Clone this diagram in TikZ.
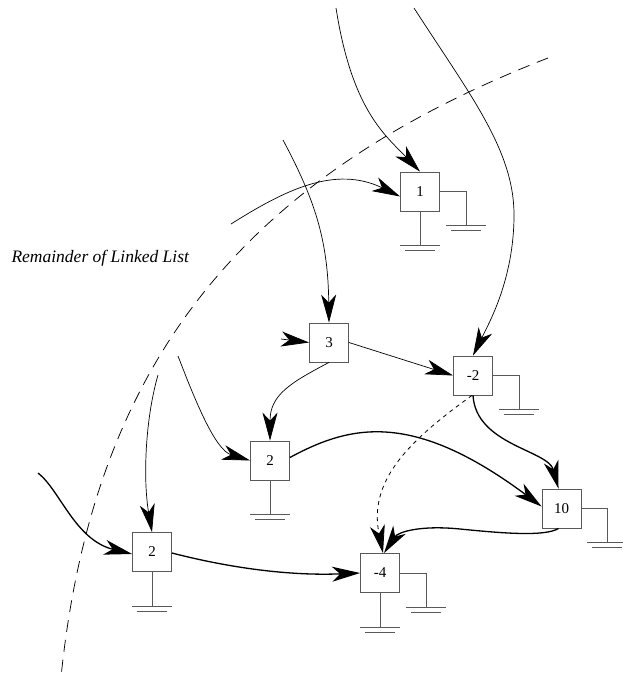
\documentclass[tikz,border=0pt]{standalone}
\usepackage{fontspec}
\setmainfont{Liberation Serif}
\usetikzlibrary{arrows.meta,calc}

\tikzset{
  head/.style={-{Stealth[length=28pt,width=15pt,inset=8pt]}},
  cell/.style={draw=black!65, line width=0.8pt, minimum width=39pt, minimum height=39pt,
               inner sep=0pt, font=\fontsize{15}{18}\selectfont},
  wire/.style={draw=black!65, line width=0.8pt},
  link/.style={line width=0.7pt, head},
  boldlink/.style={line width=1.3pt, head},
  weaklink/.style={line width=0.8pt, dash pattern=on 4pt off 4pt, head},
  border/.style={line width=0.75pt, dash pattern=on 12pt off 8pt},
  ground/.pic={
    \draw[wire] (-20pt,0pt) -- (20pt,0pt);
    \draw[wire] (-15pt,-5pt) -- (15pt,-5pt);
  }
}

\begin{document}
\begin{tikzpicture}[x=1pt,y=-1pt]
\useasboundingbox (0,0) rectangle (622,679);

% boundary of the list portion
\coordinate (d1) at (548,58);
\coordinate (d2) at (61,677);
\draw[border] (d1) .. controls (240,178) and (93,366) .. (d2);
\node[anchor=base west, font=\fontsize{17.5}{20}\selectfont\itshape] (lbl) at (8,262)
  {Remainder of Linked List};

% list cells
\node[cell] (b1)  at (420,191.5) {1};
\node[cell] (b3)  at (329,342.5) {3};
\node[cell] (b2m) at (270,460.5) {2};
\node[cell] (b2l) at (152,552)   {2};
\node[cell] (bm2) at (473,375.5) {-2};
\node[cell] (b10) at (561.5,508.5) {10};
\node[cell] (bm4) at (380,573)   {-4};

% null pointers (ground symbols)
\draw[wire] (b1.south)  -- ++(0,34) pic{ground};
\draw[wire] (b1.east)   -| ++(26,34) pic{ground};
\draw[wire] (bm2.east)  -| ++(26,34) pic{ground};
\draw[wire] (b10.east)  -| ++(26,34) pic{ground};
\draw[wire] (b2m.south) -- ++(0,34) pic{ground};
\draw[wire] (b2l.south) -- ++(0,34) pic{ground};
\draw[wire] (bm4.south) -- ++(0,34) pic{ground};
\draw[wire] (bm4.east)  -| ++(26,34) pic{ground};

% loose ends of incoming pointers
\coordinate (c1) at (336,8);
\coordinate (c2) at (231,224);
\coordinate (c3) at (414,8);
\coordinate (c4) at (283,140);
\coordinate (c5) at (281,339);
\coordinate (c8) at (178,356);
\coordinate (c14) at (158,375);
\coordinate (c15) at (38,473);

% pointers
\draw[link] (c1) .. controls (352,110) and (385,135) .. (b1.north);
\draw[link] (c2) .. controls (285,190) and (335,165) .. ($(b1.west)+(0,5)$);
\draw[link] (c3) .. controls (470,95) and (514,150) .. (514,215)
                 .. controls (514,280) and (488,325) .. (bm2.north);
\draw[link] (c4) .. controls (315,200) and (328,240) .. (b3.north);
\draw[link] (c5) -- (b3.west);
\draw[link] (b3.east) -- (bm2.west);
\draw[link] (b3.south) .. controls (290,383) and (270,395) .. (b2m.north);
\draw[link] (c8) .. controls (195,400) and (215,450) .. (b2m.west);
\draw[link] (c14) .. controls (145,420) and (143,480) .. (b2l.north);

\draw[boldlink] ($(b2m.east)+(0,-3)$) .. controls (350,425) and (412,410) .. ($(b10.west)+(0,-2)$);
\draw[boldlink] (bm2.south) .. controls (476,445) and (548,450) .. ($(b10.north)+(-3,0)$);
\draw[boldlink] ($(b10.south)+(-3,0)$) .. controls (545,537) and (500,533) .. (460,529)
                 .. controls (420,525) and (398,532) .. ($(bm4.north)+(4,0)$);
\draw[boldlink] ($(b2l.east)+(0,1)$) .. controls (230,568) and (290,576) .. (bm4.west);
\draw[boldlink] (c15) .. controls (60,490) and (75,540) .. ($(b2l.west)+(0,2)$);

\draw[weaklink] ($(bm2.south)+(-1,0)$) .. controls (410,440) and (368,480) .. ($(bm4.north)+(3,0)$);
\end{tikzpicture}
\end{document}
